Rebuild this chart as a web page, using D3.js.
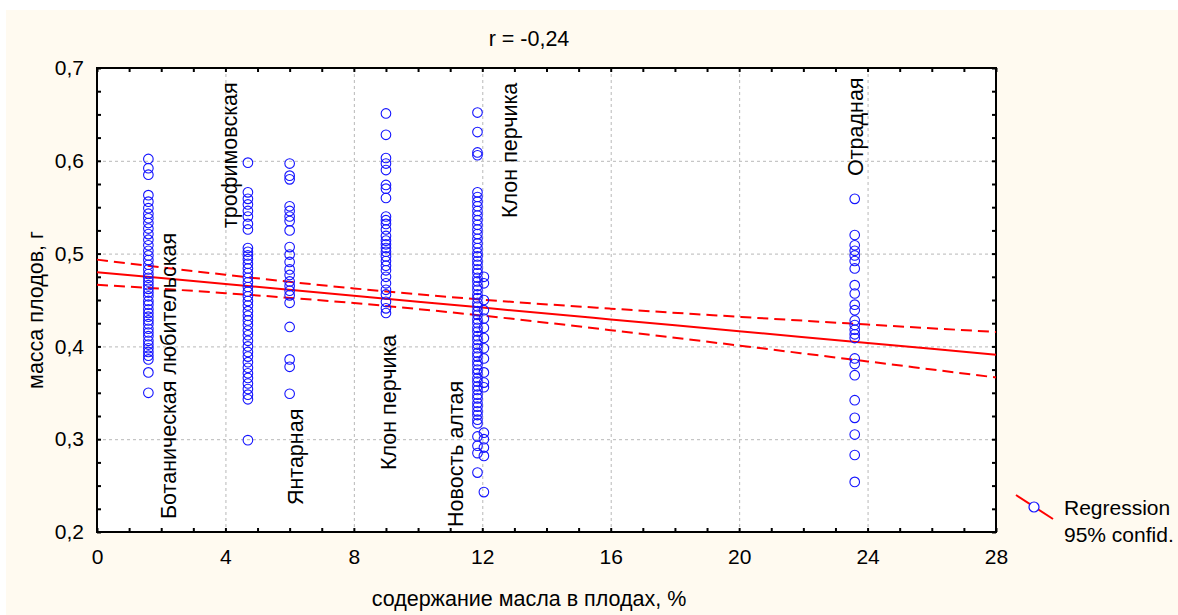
<!DOCTYPE html>
<html>
<head>
<meta charset="utf-8">
<script src="https://cdn.jsdelivr.net/npm/d3@7"></script>
<style>
  body { margin: 0; background: #fff; }
  svg { display: block; font-family: "Liberation Sans", Arial, sans-serif; }
</style>
</head>
<body>
<div id="chart"></div>
<script>
// varieties and their oil content (x), one column of fruit masses (y) each
var varieties = ["Ботаническая любительская", "трофимовская", "Янтарная", "Клон перчика", "Новость алтая", "Клон перчика", "Отрадная"];
var oilContent = [1.6, 4.7, 6.0, 9.0, 11.85, 12.05, 23.6];

var botanicheskaya = [0.602, 0.592, 0.585, 0.563, 0.556, 0.549, 0.543, 0.538, 0.533, 0.527, 0.521, 0.515, 0.509, 0.503,
  0.498, 0.493, 0.488, 0.483, 0.478, 0.474, 0.470, 0.466, 0.462, 0.458, 0.454, 0.449, 0.445, 0.440, 0.436, 0.432,
  0.428, 0.424, 0.419, 0.415, 0.411, 0.406, 0.402, 0.398, 0.394, 0.390, 0.386, 0.372, 0.350];
var trofimovskaya = [0.598, 0.566, 0.559, 0.553, 0.546, 0.540, 0.532, 0.526, 0.506, 0.502, 0.498, 0.494, 0.489, 0.484,
  0.479, 0.474, 0.469, 0.464, 0.459, 0.454, 0.449, 0.444, 0.438, 0.433, 0.428, 0.423, 0.417, 0.412, 0.406, 0.400,
  0.394, 0.389, 0.383, 0.377, 0.371, 0.366, 0.360, 0.354, 0.348, 0.343, 0.299];
var yantarnaya = [0.597, 0.584, 0.580, 0.551, 0.546, 0.540, 0.535, 0.525, 0.507, 0.499, 0.491, 0.483, 0.477, 0.470,
  0.465, 0.460, 0.455, 0.447, 0.421, 0.386, 0.378, 0.349];
var klonA = [0.651, 0.628, 0.603, 0.597, 0.590, 0.574, 0.570, 0.560, 0.540, 0.536, 0.532, 0.526, 0.519, 0.514,
  0.510, 0.506, 0.502, 0.497, 0.492, 0.487, 0.482, 0.475, 0.468, 0.461, 0.456, 0.448, 0.441, 0.436];
var novost = [0.652, 0.631, 0.609, 0.606, 0.566, 0.561, 0.556, 0.551, 0.546, 0.541, 0.536, 0.531, 0.526, 0.521,
  0.516, 0.511, 0.506, 0.501, 0.497, 0.492, 0.488, 0.483, 0.479, 0.474, 0.470, 0.465, 0.461, 0.456, 0.452, 0.447,
  0.443, 0.438, 0.434, 0.429, 0.425, 0.420, 0.416, 0.411, 0.407, 0.402, 0.398, 0.393, 0.389, 0.384, 0.380, 0.375,
  0.371, 0.366, 0.362, 0.357, 0.353, 0.348, 0.344, 0.339, 0.335, 0.330, 0.326, 0.321, 0.317, 0.303, 0.293, 0.285, 0.264];
var klonB = [0.475, 0.468, 0.450, 0.439, 0.430, 0.420, 0.409, 0.398, 0.387, 0.372, 0.361, 0.356, 0.307, 0.300,
  0.291, 0.282, 0.243];
var otradnaya = [0.559, 0.520, 0.509, 0.503, 0.498, 0.492, 0.484, 0.466, 0.457, 0.445, 0.439, 0.428, 0.423, 0.418,
  0.413, 0.409, 0.387, 0.381, 0.369, 0.342, 0.323, 0.305, 0.283, 0.254];
var columns = [botanicheskaya, trofimovskaya, yantarnaya, klonA, novost, klonB, otradnaya];

// regression line and 95% band read at the x ticks
var fitX = [0, 4, 8, 12, 16, 20, 24, 28];
var fitY = [0.480, 0.4673, 0.4546, 0.4418, 0.4291, 0.4164, 0.4037, 0.391];
var bandUpper = [0.4935, 0.4772, 0.4625, 0.4504, 0.4407, 0.4319, 0.4236, 0.4155];
var bandLower = [0.4665, 0.4574, 0.4467, 0.4332, 0.4175, 0.4009, 0.3838, 0.3665];

var xTickLabels = [0, 4, 8, 12, 16, 20, 24, 28];
var yTickLabels = [0.2, 0.3, 0.4, 0.5, 0.6, 0.7];

var width = 1178, height = 615;
var plotL = 97, plotR = 996, plotT = 68, plotB = 532;
var fontSize = "21.5px";

var svg = d3.select("#chart").append("svg")
    .attr("width", width)
    .attr("height", height);

svg.append("rect")
    .attr("x", 6).attr("y", 10)
    .attr("width", width - 6).attr("height", height - 10)
    .attr("fill", "#fffaf0");

var x = d3.scaleLinear().domain([0, 28]).range([plotL, plotR]);
var y = d3.scaleLinear().domain([0.2, 0.7]).range([plotB, plotT]);
var comma = function (d) { return d3.format(".1f")(d).replace(".", ","); };

svg.append("rect")
    .attr("x", plotL).attr("y", plotT)
    .attr("width", plotR - plotL).attr("height", plotB - plotT)
    .attr("fill", "#fff");

// grid
var grid = svg.append("g")
    .attr("stroke", "#b8b8b8")
    .attr("stroke-width", 1)
    .attr("stroke-dasharray", "3,3");
grid.selectAll(".gx")
    .data(xTickLabels.slice(1, -1))
    .enter().append("line")
    .attr("x1", function (d) { return x(d) + 0.5; })
    .attr("x2", function (d) { return x(d) + 0.5; })
    .attr("y1", plotT).attr("y2", plotB);
grid.selectAll(".gy")
    .data(yTickLabels.slice(1, -1))
    .enter().append("line")
    .attr("y1", function (d) { return y(d) + 0.5; })
    .attr("y2", function (d) { return y(d) + 0.5; })
    .attr("x1", plotL).attr("x2", plotR);

// minor ticks, all pointing inward
var xMinor = d3.range(0, 29, 1);
var yMinor = d3.range(0.2, 0.7001, 0.025);
function tickAxis(axis, pos) {
    var g = svg.append("g").attr("transform", pos).call(axis);
    g.select(".domain").remove();
    g.selectAll("text").remove();
    g.selectAll("line").attr("stroke", "#000").attr("stroke-width", 2);
}
tickAxis(d3.axisBottom(x).tickValues(xMinor).tickSizeInner(-4).tickSizeOuter(0), "translate(0," + plotB + ")");
tickAxis(d3.axisTop(x).tickValues(xMinor).tickSizeInner(-4).tickSizeOuter(0), "translate(0," + plotT + ")");
tickAxis(d3.axisLeft(y).tickValues(yMinor).tickSizeInner(-4).tickSizeOuter(0), "translate(" + plotL + ",0)");
tickAxis(d3.axisRight(y).tickValues(yMinor).tickSizeInner(-4).tickSizeOuter(0), "translate(" + plotR + ",0)");

// tick labels
var xLab = svg.append("g")
    .attr("transform", "translate(0," + plotB + ")")
    .call(d3.axisBottom(x).tickValues(xTickLabels).tickSize(0).tickPadding(17).tickFormat(d3.format("d")));
var yLab = svg.append("g")
    .attr("transform", "translate(" + plotL + ",0)")
    .call(d3.axisLeft(y).tickValues(yTickLabels).tickSize(0).tickPadding(13).tickFormat(comma));
[xLab, yLab].forEach(function (g) {
    g.select(".domain").remove();
    g.selectAll("text")
        .attr("fill", "#000")
        .style("font-family", "'Liberation Sans', Arial, sans-serif")
        .style("font-size", "21px");
});

// frame
svg.append("rect")
    .attr("x", plotL).attr("y", plotT)
    .attr("width", plotR - plotL).attr("height", plotB - plotT)
    .attr("fill", "none")
    .attr("stroke", "#000")
    .attr("stroke-width", 2);

// regression
var fitLine = d3.line()
    .x(function (d, i) { return x(fitX[i]); })
    .y(function (d) { return y(d); })
    .curve(d3.curveMonotoneX);
var plot = svg.append("g");
plot.append("path").attr("d", fitLine(fitY))
    .attr("fill", "none").attr("stroke", "#ff0000").attr("stroke-width", 2);
[bandUpper, bandLower].forEach(function (b) {
    plot.append("path").attr("d", fitLine(b))
        .attr("fill", "none").attr("stroke", "#ff0000").attr("stroke-width", 2)
        .attr("stroke-dasharray", "11,6");
});

// points
var points = [];
columns.forEach(function (col, i) {
    col.forEach(function (v) { points.push({ oil: oilContent[i], mass: v }); });
});
plot.selectAll("circle.pt")
    .data(points)
    .enter().append("circle")
    .attr("class", "pt")
    .attr("cx", function (d) { return x(d.oil); })
    .attr("cy", function (d) { return y(d.mass); })
    .attr("r", 4.8)
    .attr("fill", "none")
    .attr("stroke", "#1414ff")
    .attr("stroke-width", 1.1);

// variety labels, rotated, reading bottom-up
var labelAt = [
    { dx: 28, start: 0.214 },
    { dx: -11, start: 0.5276 },
    { dx: 13, start: 0.229 },
    { dx: 10, start: 0.2668 },
    { dx: -14, start: 0.2054 },
    { dx: 33, start: 0.5384 },
    { dx: 8, start: 0.5836 }
];
plot.selectAll("text.var")
    .data(varieties)
    .enter().append("text")
    .attr("class", "var")
    .attr("transform", function (d, i) {
        return "translate(" + (x(oilContent[i]) + labelAt[i].dx) + "," + y(labelAt[i].start) + ") rotate(-90)";
    })
    .attr("font-size", fontSize)
    .attr("fill", "#000")
    .text(function (d) { return d; });

// title and axis names
svg.append("text")
    .attr("x", 529).attr("y", 46)
    .attr("text-anchor", "middle")
    .attr("font-size", fontSize)
    .text("r = -0,24");
svg.append("text")
    .attr("x", 529).attr("y", 606)
    .attr("text-anchor", "middle")
    .attr("font-size", fontSize)
    .text("содержание масла в плодах, %");
svg.append("text")
    .attr("transform", "translate(43," + ((plotT + plotB) / 2 + 10) + ") rotate(-90)")
    .attr("text-anchor", "middle")
    .attr("font-size", fontSize)
    .text("масса плодов, г");

// legend
var lg = svg.append("g");
lg.append("line")
    .attr("x1", 1016).attr("y1", 495).attr("x2", 1053).attr("y2", 519)
    .attr("stroke", "#ff0000").attr("stroke-width", 2);
lg.append("circle")
    .attr("cx", 1034).attr("cy", 507).attr("r", 5)
    .attr("fill", "#fff").attr("stroke", "#1414ff").attr("stroke-width", 1.2);
lg.append("text").attr("x", 1064).attr("y", 515).attr("font-size", "21px").text("Regression");
lg.append("text").attr("x", 1064).attr("y", 542).attr("font-size", "21px").text("95% confid.");
</script>
</body>
</html>
